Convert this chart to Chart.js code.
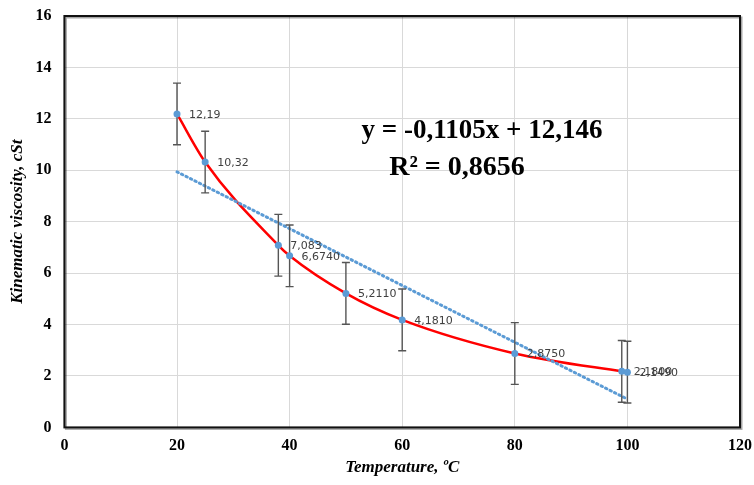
<!DOCTYPE html>
<html>
<head>
<meta charset="utf-8">
<script src="https://cdn.jsdelivr.net/npm/chart.js@4.4.0/dist/chart.umd.min.js"></script>
<style>
  html, body { margin: 0; padding: 0; background: #fff; }
  #wrap { width: 754px; height: 485px; position: relative; }
</style>
</head>
<body>
<div id="wrap"><canvas id="chart"></canvas></div>
<script>
// measured data
const temperature = [20, 25, 38, 40, 50, 60, 80, 99, 100];
const viscosity = [12.19, 10.32, 7.083, 6.674, 5.211, 4.181, 2.875, 2.18, 2.149];
const pointLabels = ["12,19", "10,32", "7,083", "6,6740", "5,2110", "4,1810", "2,8750", "2,1800", "2,1490"];
const errorSize = [1.2, 1.2, 1.2, 1.2, 1.2, 1.2, 1.2, 1.2, 1.2];

// linear trendline endpoints
const trendX = [20, 100];
const trendY = [9.94, 1.1];

const xTicks = [0, 20, 40, 60, 80, 100, 120];
const yTicks = [0, 2, 4, 6, 8, 10, 12, 14, 16];

const equationLines = ["y = -0,1105x + 12,146", "R² = 0,8656"];

const serif = "'Liberation Serif', 'Times New Roman', serif";

const errorBars = {
  id: "errorBars",
  afterDatasetsDraw(chart) {
    const { ctx, scales: { x, y } } = chart;
    ctx.save();
    ctx.strokeStyle = "#555";
    ctx.lineWidth = 1.4;
    temperature.forEach((t, i) => {
      const px = x.getPixelForValue(t);
      const top = y.getPixelForValue(viscosity[i] + errorSize[i]);
      const bot = y.getPixelForValue(viscosity[i] - errorSize[i]);
      ctx.beginPath();
      ctx.moveTo(px, top); ctx.lineTo(px, bot);
      ctx.moveTo(px - 4, top); ctx.lineTo(px + 4, top);
      ctx.moveTo(px - 4, bot); ctx.lineTo(px + 4, bot);
      ctx.stroke();
    });
    // point markers on top
    ctx.fillStyle = "#5b9bd5";
    temperature.forEach((t, i) => {
      ctx.beginPath();
      ctx.arc(x.getPixelForValue(t), y.getPixelForValue(viscosity[i]), 3.5, 0, Math.PI * 2);
      ctx.fill();
    });
    // data labels
    ctx.fillStyle = "#404040";
    ctx.font = "11px 'DejaVu Sans', sans-serif";
    ctx.textBaseline = "middle";
    temperature.forEach((t, i) => {
      ctx.fillText(pointLabels[i], x.getPixelForValue(t) + 12, y.getPixelForValue(viscosity[i]) + 1);
    });
    ctx.restore();
  }
};

const frameAndText = {
  id: "frameAndText",
  afterDraw(chart) {
    const { ctx, chartArea: a } = chart;
    ctx.save();
    // shadow-ish frame
    ctx.strokeStyle = "rgba(0,0,0,0.35)";
    ctx.lineWidth = 2;
    ctx.strokeRect(a.left + 1.5, a.top + 1.5, a.right - a.left, a.bottom - a.top);
    ctx.strokeStyle = "#111";
    ctx.lineWidth = 2;
    ctx.strokeRect(a.left, a.top, a.right - a.left, a.bottom - a.top);
    // trendline equation
    ctx.fillStyle = "#000";
    ctx.font = "bold 27px " + serif;
    ctx.textAlign = "center";
    ctx.textBaseline = "middle";
    ctx.fillText(equationLines[0], 482, 131);
    ctx.font = "bold 28px " + serif;
    ctx.fillText(equationLines[1], 457, 168);
    ctx.restore();
  }
};

new Chart(document.getElementById("chart"), {
  type: "scatter",
  data: {
    datasets: [
      {
        label: "Viscosity",
        data: temperature.map((t, i) => ({ x: t, y: viscosity[i] })),
        showLine: true,
        borderColor: "#ff0000",
        borderWidth: 2.5,
        cubicInterpolationMode: "monotone",
        pointRadius: 0,
        order: 2
      },
      {
        label: "Linear",
        data: trendX.map((t, i) => ({ x: t, y: trendY[i] })),
        showLine: true,
        borderColor: "#5b9bd5",
        borderWidth: 3,
        borderDash: [1.5, 3.5],
        borderCapStyle: "round",
        pointRadius: 0,
        order: 1
      }
    ]
  },
  options: {
    responsive: true,
    maintainAspectRatio: false,
    animation: false,
    layout: { padding: { top: 16, right: 14, left: 2, bottom: 0 } },
    plugins: { legend: { display: false }, tooltip: { enabled: false } },
    scales: {
      x: {
        type: "linear",
        min: 0, max: 120,
        afterBuildTicks: (s) => { s.ticks = xTicks.map((v) => ({ value: v })); },
        afterFit: (s) => { s.paddingRight = 0; },
        grid: { color: "#d9d9d9", drawTicks: false },
        border: { display: false },
        ticks: { color: "#000", padding: 9, font: { family: serif, size: 16, weight: "bold" } },
        title: {
          display: true, text: "Temperature, ºC", color: "#000", padding: { top: -7, bottom: 7 },
          font: { family: serif, size: 17, weight: "bold", style: "italic" }
        }
      },
      y: {
        min: 0, max: 16,
        afterBuildTicks: (s) => { s.ticks = yTicks.map((v) => ({ value: v })); },
        afterFit: (s) => { s.paddingTop = 0; },
        grid: { color: "#d9d9d9", drawTicks: false },
        border: { display: false },
        ticks: { color: "#000", padding: 13, font: { family: serif, size: 16, weight: "bold" } },
        title: {
          display: true, text: "Kinematic viscosity, cSt", color: "#000", padding: { bottom: -5, top: 5 },
          font: { family: serif, size: 17, weight: "bold", style: "italic" }
        }
      }
    }
  },
  plugins: [errorBars, frameAndText]
});
</script>
</body>
</html>
